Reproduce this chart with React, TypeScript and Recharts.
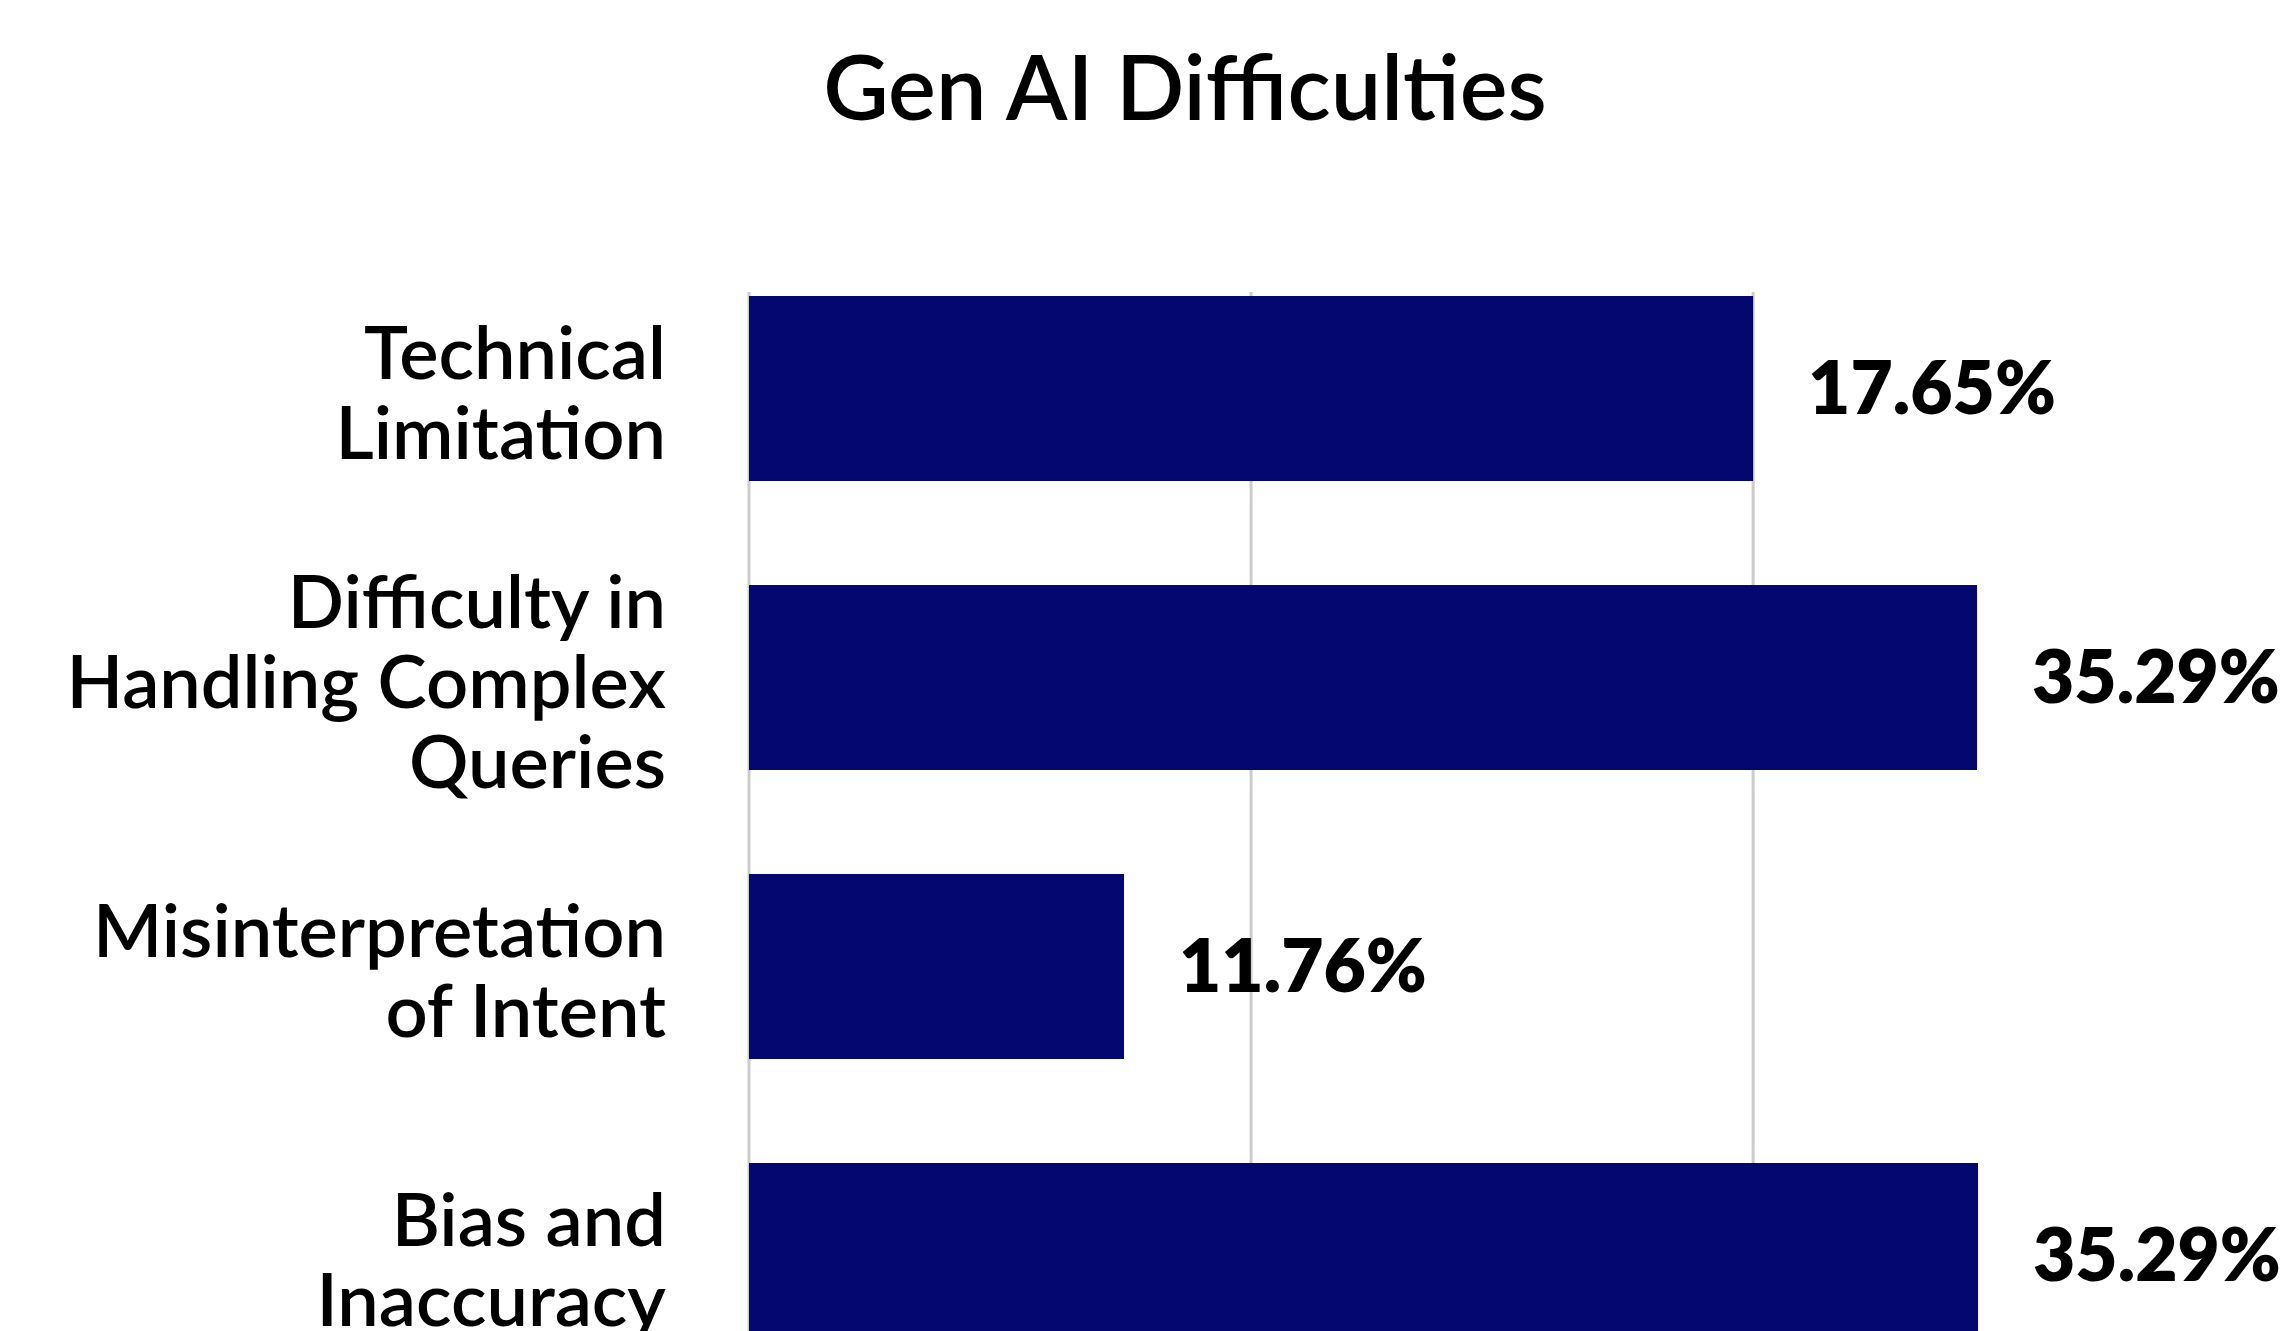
import React from "react";
import { Bar, BarChart, CartesianGrid, LabelList, XAxis, YAxis } from "recharts";

const categories = [
  "Technical\nLimitation",
  "Difficulty in\nHandling Complex\nQueries",
  "Misinterpretation\nof Intent",
  "Bias and\nInaccuracy",
];
// share printed next to each bar
const shares = [17.65, 35.29, 11.76, 35.29];
// bar lengths as drawn, read against the gridlines (10 units per gridline)
const barLengths = [20.0, 24.46, 7.47, 24.48];
const xTicks = [0, 10, 20];

const data = categories.map((name, i) => ({ name, length: barLengths[i], share: shares[i] }));

const FONT = "Lato, 'Noto Sans', sans-serif";
const LINE = 80;

function CategoryTick(props: any) {
  const { x, y, payload } = props;
  const lines = String(payload.value).split("\n");
  const first = y - ((lines.length - 1) * LINE) / 2 + 30;
  return (
    <text x={x} y={first} textAnchor="end" fill="#000" fontSize={74} fontWeight={600} fontFamily={FONT}>
      {lines.map((l, i) => (
        <tspan key={i} x={x} y={first + i * LINE}>
          {l}
        </tspan>
      ))}
    </text>
  );
}

export default function App() {
  return (
    <div
      style={{
        position: "fixed",
        left: 0,
        top: 0,
        width: 2294,
        height: 1331,
        overflow: "hidden",
        background: "#fff",
        fontFamily: FONT,
      }}
    >
      <svg width={2294} height={200} style={{ position: "absolute", left: 0, top: 0 }}>
        <text x={1185} y={120} textAnchor="middle" fontSize={90} fontWeight={600} fill="#000" fontFamily={FONT}>
          Gen AI Difficulties
        </text>
      </svg>
      <div style={{ position: "absolute", left: 0, top: 0 }}>
        {/* plot runs past the right edge so the axis end has no visible gridline */}
        <BarChart
          width={2500}
          height={1420}
          data={data}
          layout="vertical"
          margin={{ top: 244, right: 44, bottom: 20, left: 0 }}
        >
          <CartesianGrid horizontal={false} stroke="#cccccc" strokeWidth={3} y={292} height={1200} />
          <XAxis type="number" domain={[0, 34]} ticks={xTicks} hide />
          <YAxis
            type="category"
            dataKey="name"
            width={749}
            axisLine={false}
            tickLine={false}
            tickSize={0}
            tickMargin={83}
            tick={<CategoryTick />}
            interval={0}
          />
          <Bar dataKey="length" fill="#03076f" barSize={185} isAnimationActive={false}>
            <LabelList
              dataKey="share"
              position="right"
              offset={55}
              formatter={(v: any) => `${Number(v).toFixed(2)}%`}
              fill="#000"
              fontSize={73}
              fontWeight={800}
              fontFamily={FONT}
            />
          </Bar>
        </BarChart>
      </div>
    </div>
  );
}
